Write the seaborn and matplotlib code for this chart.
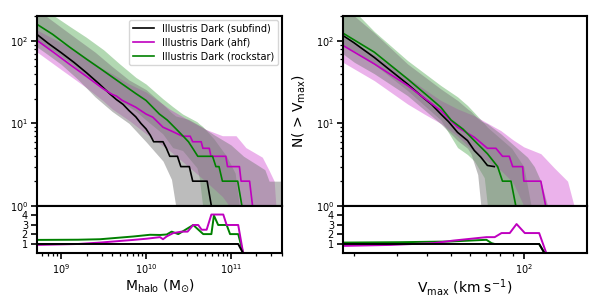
import numpy as np
import pandas as pd
import matplotlib
matplotlib.use("Agg")
import matplotlib.pyplot as plt
import seaborn as sns
from matplotlib.ticker import NullFormatter, FixedLocator

# ---------------- data: left panel (halo mass) ----------------
# line vertices: log10(M) and N(>M)
m_sub_x = [8.718, 8.85, 9.0, 9.15, 9.3, 9.45, 9.57, 9.65, 9.73, 9.8, 9.88, 9.94, 10.0, 10.05, 10.09,
           10.2, 10.24, 10.28, 10.37, 10.41, 10.51, 10.55, 10.72, 10.77]
m_sub_y = [119, 93, 72, 55, 41, 30, 23, 19.5, 17, 14.3, 12, 10, 8.6, 7.2, 6,
           6, 5, 4, 4, 3, 3, 2, 2, 1]
m_ahf_x = [8.718, 8.9, 9.1, 9.3, 9.49, 9.6, 9.65, 9.72, 9.88, 10.0, 10.08, 10.2, 10.31, 10.43, 10.52,
           10.55, 10.65, 10.67, 10.745, 10.765, 10.94, 10.96, 11.10, 11.12, 11.22, 11.255]
m_ahf_y = [101, 74, 52, 37, 26.5, 22.5, 21.5, 19, 15.7, 13, 11.9, 9, 8, 7, 7,
           6, 6, 5, 5, 4, 4, 3, 3, 2, 2, 1]
m_rock_x = [8.718, 8.9, 9.1, 9.3, 9.49, 9.7, 9.88, 10.0, 10.157, 10.25, 10.353, 10.45, 10.5, 10.55,
            10.61, 10.784, 10.823, 10.86, 10.9, 11.08, 11.13]
m_rock_y = [158, 120, 84, 60, 44, 31, 23, 19, 13, 11, 8.6, 6.8, 6, 5,
            4, 4, 3, 3, 2, 2, 1]

# scatter bands (lower / upper) for each finder
mb_sub_x = [8.718, 8.82, 9.0, 9.2, 9.4, 9.6, 9.8, 10.0, 10.2, 10.3, 10.35, 10.5, 10.65, 10.8,
            11.0, 11.15, 11.3, 11.4, 11.45, 11.6]
mb_sub_lo = [84, 71, 52, 34, 21, 14, 10, 6, 3.5, 2.1, 1, 1, 1, 1,
             1, 1, 1, 1, 1, 1]
mb_sub_hi = [240, 200, 146, 103, 73, 49, 33.6, 25.7, 17, 13.5, 12.3, 11.2, 9.2, 7.3,
             5.5, 4.0, 3.2, 2.75, 2, 2]
mb_ahf_x = [8.718, 9.0, 9.1, 9.3, 9.49, 9.6, 9.804, 10.0, 10.275, 10.5, 10.7, 10.9, 10.98, 11.06,
            11.176, 11.37, 11.45, 11.51, 11.53]
mb_ahf_lo = [73, 45, 38, 27, 19, 15, 10.8, 7.5, 4.7, 3, 2, 1.3, 1, 1,
             1, 1, 1, 1, 1]
mb_ahf_hi = [135, 95, 85, 62, 46, 40, 30, 24, 15, 11, 8.5, 7.1, 7.1, 7.1,
             5.1, 3.9, 2.7, 2, 1]
mb_rock_x = [8.718, 8.92, 9.1, 9.294, 9.5, 9.686, 9.882, 10.0, 10.196, 10.314, 10.431, 10.6, 10.627,
             10.667, 10.8, 10.95, 11.05, 11.1]
mb_rock_lo = [100, 75, 55, 38, 27, 19, 14, 11, 7.5, 5.1, 4.7, 2.9, 2.2,
              1, 1, 1, 1, 1]
mb_rock_hi = [275, 200, 150, 111, 78, 53, 36, 30, 20, 16, 13, 10.5, 9.9,
              9.2, 6.5, 4, 2.5, 1]

# ratio vertices
mr_sub_x = [8.718, 11.086, 11.145, 11.6]
mr_sub_y = [1, 1, 0, 0]
mr_ahf_x = [8.718, 9.2, 9.459, 9.851, 10.0, 10.165, 10.2, 10.244, 10.321, 10.42, 10.49, 10.556, 10.615,
            10.655, 10.714, 10.77, 10.91, 10.95, 11.086, 11.145, 11.6]
mr_ahf_y = [0.9, 1.0, 1.15, 1.43, 1.55, 1.72, 1.5, 1.8, 2.15, 2.3, 2.3, 3.0, 3.0,
            2.5, 2.5, 4.1, 4.1, 3.0, 3.0, 0, 0]
mr_rock_x = [8.718, 9.2, 9.459, 9.851, 10.047, 10.165, 10.244, 10.302, 10.38, 10.556, 10.674, 10.77,
             10.8, 10.85, 10.95, 10.99, 11.086, 11.145, 11.6]
mr_rock_y = [1.43, 1.45, 1.5, 1.79, 1.97, 1.95, 2.0, 2.3, 2.04, 3.0, 2.04, 2.04,
             4.0, 3.0, 3.0, 2.04, 2.04, 0, 0]

# ---------------- data: right panel (Vmax) ----------------
v_sub_x = [1.255, 1.3, 1.384, 1.45, 1.521, 1.59, 1.62, 1.658, 1.69, 1.727, 1.768, 1.796, 1.823, 1.85, 1.878]
v_sub_y = [116, 95, 63, 44, 30, 20, 17, 13, 10.5, 7.8, 6.2, 4.7, 3.9, 3.1, 3]
v_ahf_x = [1.255, 1.384, 1.521, 1.658, 1.727, 1.796, 1.85, 1.885, 1.912, 1.94, 1.954, 1.995,
           2.0, 2.07, 2.09]
v_ahf_y = [88, 52.6, 28.8, 14.3, 9, 6.8, 5, 5, 4, 4, 3, 3,
           2, 2, 1]
v_rock_x = [1.255, 1.384, 1.521, 1.6, 1.658, 1.7, 1.75, 1.796, 1.85, 1.892, 1.912, 1.947, 1.967]
v_rock_y = [124, 73, 34.6, 22, 15.7, 11, 8.5, 6.2, 4.3, 3, 2, 2, 1]

vb_sub_x = [1.255, 1.302, 1.384, 1.521, 1.658, 1.727, 1.768, 1.782, 1.81, 1.823, 1.85, 1.905,
            1.96, 2.015, 2.043, 2.07, 2.098]
vb_sub_lo = [69.5, 55, 40, 21.7, 9.9, 6.2, 5, 4.3, 2.4, 1, 1, 1,
             1, 1, 1, 1, 1]
vb_sub_hi = [270, 200, 125, 52.6, 26.2, 19, 15, 14, 11.5, 10.7, 9.9, 7.5,
             5.4, 3.9, 3, 2, 1]
vb_ahf_x = [1.255, 1.384, 1.521, 1.59, 1.658, 1.727, 1.796, 1.88, 1.905, 1.95, 1.96, 2.0,
            2.07, 2.125, 2.18, 2.207]
vb_ahf_lo = [55, 33, 17.2, 13, 10, 7, 4.5, 3, 2.7, 2, 1.8, 1,
             1, 1, 1, 1]
vb_ahf_hi = [110, 68, 36, 26, 19, 15, 12.4, 9, 8.2, 6.5, 6.2, 5.2,
             4.3, 2.9, 2, 1]
vb_rock_x = [1.255, 1.322, 1.384, 1.521, 1.658, 1.727, 1.768, 1.796, 1.837, 1.85, 1.95, 2.0, 2.03]
vb_rock_lo = [90, 70, 52, 25, 11, 5.1, 4.2, 3.5, 2.2, 1, 1, 1, 1]
vb_rock_hi = [300, 200, 130, 57.8, 28.8, 21, 16.5, 13.5, 10, 9, 5, 3, 1]

vr_sub_x = [1.255, 2.063, 2.086, 2.26]
vr_sub_y = [1, 1, 0, 0]
vr_ahf_x = [1.255, 1.45, 1.627, 1.71, 1.846, 1.88, 1.908, 1.942, 1.97, 2.004, 2.063, 2.093, 2.26]
vr_ahf_y = [0.8, 0.9, 1.09, 1.36, 1.72, 1.72, 2.15, 2.15, 3.1, 2.15, 2.15, 0, 0]
vr_rock_x = [1.255, 1.49, 1.695, 1.846, 1.867, 1.88, 2.063, 2.086, 2.26]
vr_rock_y = [1.15, 1.19, 1.26, 1.44, 1.09, 1.0, 1.0, 0, 0]

labels = ["Illustris Dark (subfind)", "Illustris Dark (ahf)", "Illustris Dark (rockstar)"]
colors = ["k", "m", "g"]

# ---------------- style ----------------
plt.rcParams.update({
    "font.family": ["DejaVu Sans"],
    "axes.linewidth": 1.5,
    "xtick.labelsize": 7,
    "ytick.labelsize": 7,
    "xtick.major.width": 1.2,
    "ytick.major.width": 1.2,
    "xtick.minor.width": 0.9,
    "ytick.minor.width": 0.9,
    "xtick.major.size": 4,
    "ytick.major.size": 4,
    "xtick.minor.size": 2.5,
    "ytick.minor.size": 2.5,
    "xtick.major.pad": 2,
    "xtick.minor.pad": 2,
    "ytick.major.pad": 2.5,
    "mathtext.default": "regular",
})

fig = plt.figure(figsize=(5.98, 2.99), dpi=100)
axL = fig.add_axes([0.0619, 0.311, 0.4097, 0.6355])
axLr = fig.add_axes([0.0619, 0.1522, 0.4097, 0.1589], sharex=axL)
axR = fig.add_axes([0.5736, 0.311, 0.408, 0.6355])
axRr = fig.add_axes([0.5736, 0.1522, 0.408, 0.1589], sharex=axR)


def tolin(a):
    return 10 ** np.asarray(a, dtype=float)


def draw(ax, axr, lines, bands, ratios, xlim, show_legend):
    ax.set_xscale("log")
    ax.set_yscale("log")
    # bands: rockstar, ahf, then subfind on top
    band_cols = {"g": ("g", 0.3), "m": ("m", 0.3), "k": ("gray", 0.52)}
    for key in ["g", "m", "k"]:
        bx, lo, hi = bands[key]
        c, a = band_cols[key]
        ax.fill_between(tolin(bx), lo, hi, color=c, alpha=a, lw=0)
    for key, lab in zip(["k", "m", "g"], labels):
        lx, ly = lines[key]
        sns.lineplot(x=tolin(lx), y=ly, color=key, lw=1.2, sort=False, estimator=None,
                     ax=ax, label=lab if show_legend else None)
    ax.set_ylim(1, 200)
    ax.set_xlim(*xlim)
    ax.tick_params(axis="x", which="both", bottom=False, labelbottom=False)

    for key in ["g", "m", "k"]:
        rx, ry = ratios[key]
        sns.lineplot(x=tolin(rx), y=ry, color=key, lw=1.4, sort=False, estimator=None, ax=axr)
    axr.set_ylim(0, 5)
    axr.yaxis.set_major_locator(FixedLocator([1, 2, 3, 4]))
    axr.set_xlim(*xlim)
    axr.xaxis.set_minor_formatter(NullFormatter())
    if show_legend:
        ax.legend(loc="upper right", fontsize=7, handlelength=2.2, borderaxespad=0.4,
                  labelspacing=0.4, framealpha=0.8)
    else:
        if ax.get_legend() is not None:
            ax.get_legend().remove()


draw(axL, axLr,
     {"k": (m_sub_x, m_sub_y), "m": (m_ahf_x, m_ahf_y), "g": (m_rock_x, m_rock_y)},
     {"k": (mb_sub_x, mb_sub_lo, mb_sub_hi), "m": (mb_ahf_x, mb_ahf_lo, mb_ahf_hi),
      "g": (mb_rock_x, mb_rock_lo, mb_rock_hi)},
     {"k": (mr_sub_x, mr_sub_y), "m": (mr_ahf_x, mr_ahf_y), "g": (mr_rock_x, mr_rock_y)},
     (5.2e8, 4e11), True)

draw(axR, axRr,
     {"k": (v_sub_x, v_sub_y), "m": (v_ahf_x, v_ahf_y), "g": (v_rock_x, v_rock_y)},
     {"k": (vb_sub_x, vb_sub_lo, vb_sub_hi), "m": (vb_ahf_x, vb_ahf_lo, vb_ahf_hi),
      "g": (vb_rock_x, vb_rock_lo, vb_rock_hi)},
     {"k": (vr_sub_x, vr_sub_y), "m": (vr_ahf_x, vr_ahf_y), "g": (vr_rock_x, vr_rock_y)},
     (18, 182), False)

axL.set_ylabel(r"N( > M$_{\rm halo}$)", fontsize=10)
axR.set_ylabel(r"N( > V$_{\rm max}$)", fontsize=10)
axL.yaxis.set_label_coords(-0.14, 0.5)
axR.yaxis.set_label_coords(-0.145, 0.5)
axLr.set_xlabel(r"M$_{\rm halo}$ (M$_{\odot}$)", fontsize=10, labelpad=1)
axRr.set_xlabel(r"V$_{\rm max}$ (km s$^{-1}$)", fontsize=10, labelpad=1)

fig.savefig("out.png", dpi=100)
